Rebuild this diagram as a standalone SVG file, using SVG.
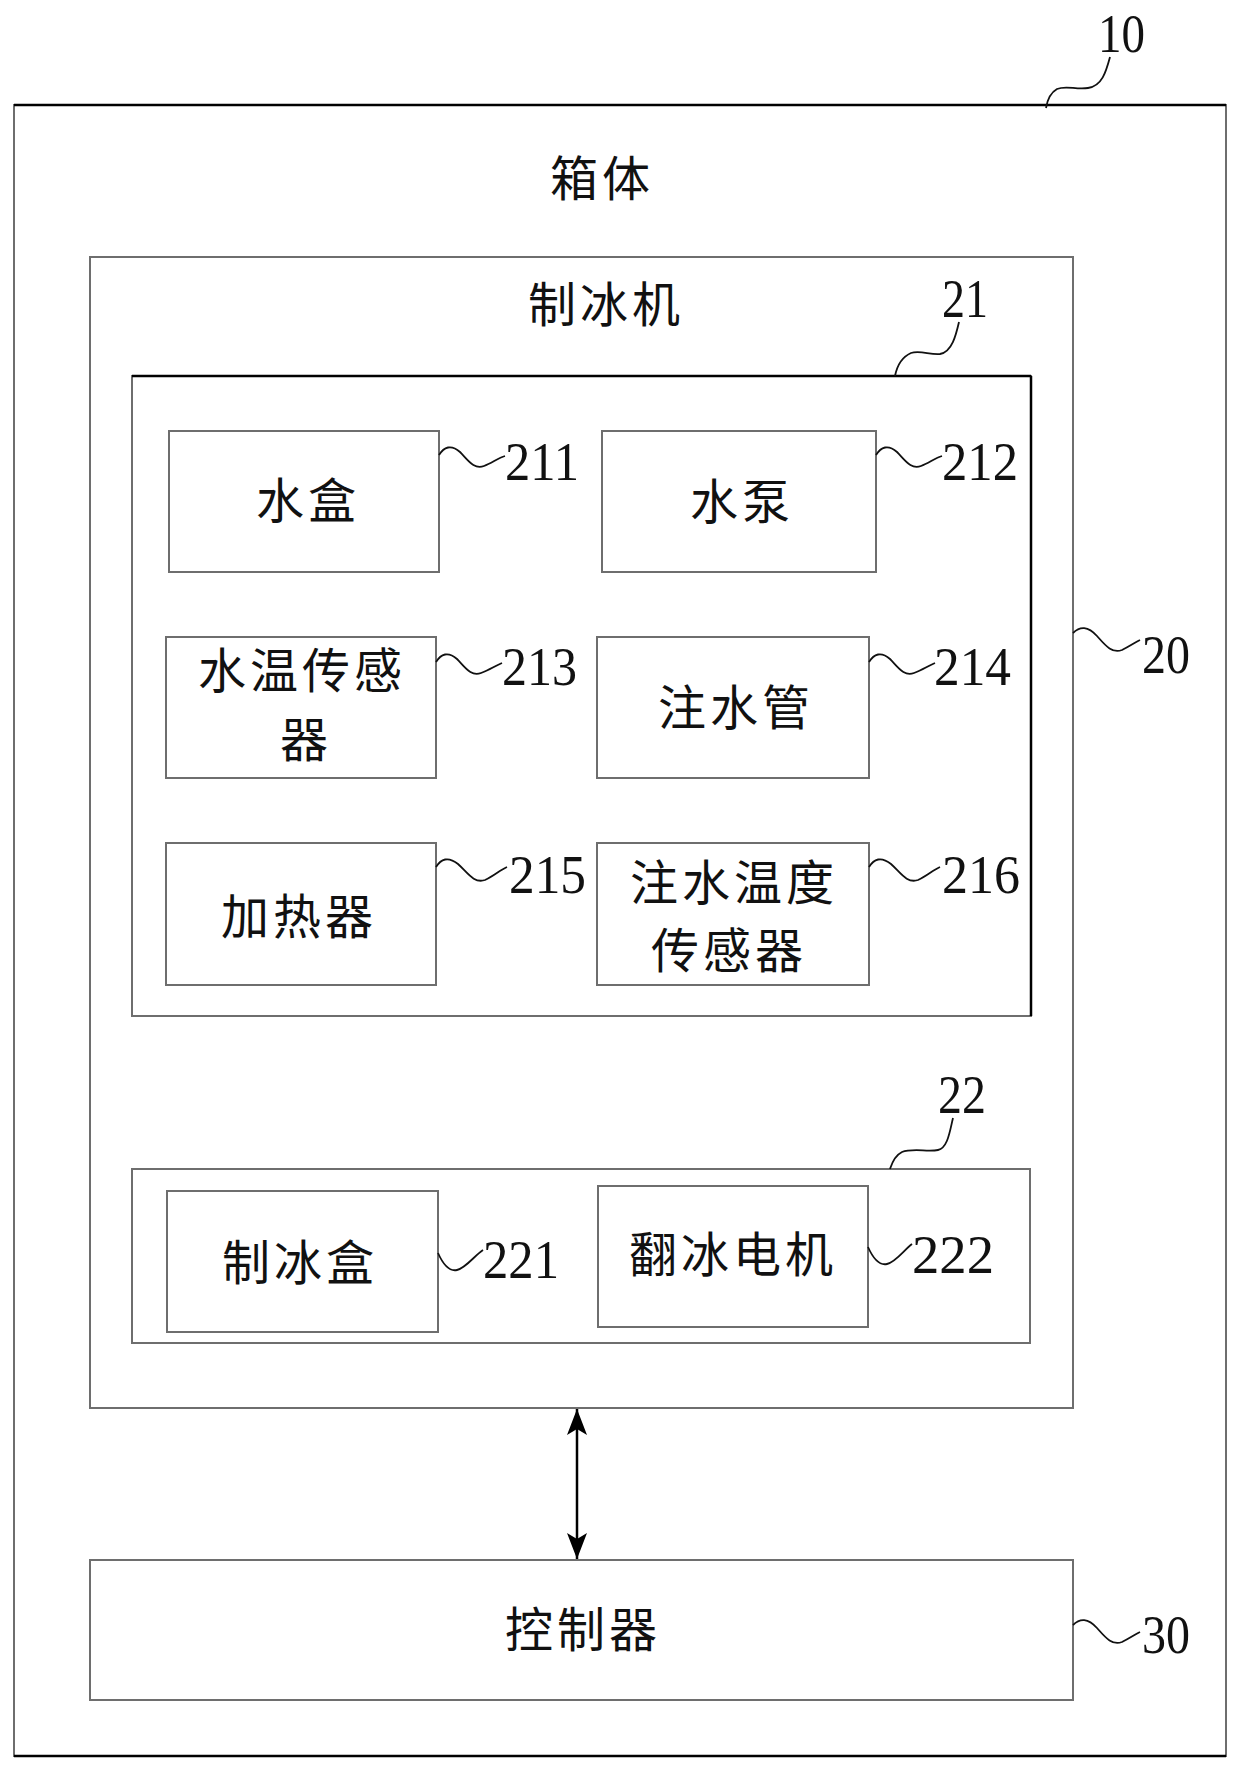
<svg xmlns="http://www.w3.org/2000/svg" width="1240" height="1771" viewBox="0 0 1240 1771">
<defs>
<style>
.box{fill:none;stroke:#6e6e6e;stroke-width:2}
.dk{stroke:#000;stroke-width:2.5;fill:none}
.cjk{font-family:"Noto Sans CJK SC","Noto Sans",sans-serif;font-size:48px;letter-spacing:4px;fill:#111}
.num{font-family:"Liberation Serif","Times New Roman",serif;font-size:54px;fill:#111}
.sq{fill:none;stroke:#111;stroke-width:1.8}
.arr{stroke:#000;stroke-width:2.5;fill:none}
</style>
<marker id="ah" viewBox="0 0 26 20" refX="26" refY="10" markerWidth="26" markerHeight="20" markerUnits="userSpaceOnUse" orient="auto-start-reverse">
<path d="M0,0 L26,10 L0,20 L6,10 Z" fill="#000"/>
</marker>
</defs>
<rect width="1240" height="1771" fill="#fff"/>

<g id="n10">
<rect class="box" x="14" y="105" width="1212" height="1651"/>
<line class="dk" x1="14" y1="105" x2="1226" y2="105"/>
<line class="dk" x1="14" y1="1756" x2="1226" y2="1756"/>
<text class="cjk" x="550" y="196">箱体</text>
<path class="sq" d="M1110,57 C1106,72 1102,86 1088,88 C1076,90 1066,85 1057,89 C1050,93 1047,102 1046,108"/>
<text class="num" x="1098" y="52" textLength="47" lengthAdjust="spacingAndGlyphs">10</text>
</g>

<g id="n20">
<rect class="box" x="90" y="257" width="983" height="1151"/>
<text class="cjk" x="528" y="322">制冰机</text>
<path class="sq" d="M1073,633 C1080,626 1088,626 1097,636 C1105,645 1112,654 1122,650 C1130,646 1134,643 1140,640"/>
<text class="num" x="1142" y="673" textLength="48" lengthAdjust="spacingAndGlyphs">20</text>
</g>

<g id="n21">
<rect class="box" x="132" y="376" width="899" height="640"/>
<line class="dk" x1="132" y1="376" x2="1031" y2="376"/>
<line class="dk" x1="1031" y1="376" x2="1031" y2="1016"/>
<path class="sq" d="M959,322 C956,335 952,352 940,354 C930,355 920,350 911,353 C902,357 897,366 895,376"/>
<text class="num" x="942" y="317" textLength="46" lengthAdjust="spacingAndGlyphs">21</text>
</g>

<g id="n211">
<rect class="box" x="169" y="431" width="270" height="141"/>
<text class="cjk" x="256" y="518">水盒</text>
<path class="sq" d="M439,455 C444,447 451,444 460,452 C468,460 474,470 484,466 C492,463 498,458 505,456"/>
<text class="num" x="505" y="480" textLength="74" lengthAdjust="spacingAndGlyphs">211</text>
</g>

<g id="n212">
<rect class="box" x="602" y="431" width="274" height="141"/>
<text class="cjk" x="690" y="519">水泵</text>
<path class="sq" d="M876,455 C881,447 888,444 897,452 C905,460 911,470 921,466 C929,463 935,458 942,456"/>
<text class="num" x="942" y="480" textLength="76" lengthAdjust="spacingAndGlyphs">212</text>
</g>

<g id="n213">
<rect class="box" x="166" y="637" width="270" height="141"/>
<text class="cjk" x="198" y="688">水温传感</text>
<text class="cjk" x="280" y="757">器</text>
<path class="sq" d="M436,662 C441,654 448,651 457,659 C465,667 471,677 481,673 C489,670 495,666 502,663"/>
<text class="num" x="502" y="685" textLength="75" lengthAdjust="spacingAndGlyphs">213</text>
</g>

<g id="n214">
<rect class="box" x="597" y="637" width="272" height="141"/>
<text class="cjk" x="658" y="725">注水管</text>
<path class="sq" d="M869,662 C874,654 881,651 890,659 C898,667 904,677 914,673 C922,670 928,666 935,663"/>
<text class="num" x="934" y="685" textLength="77" lengthAdjust="spacingAndGlyphs">214</text>
</g>

<g id="n215">
<rect class="box" x="166" y="843" width="270" height="142"/>
<text class="cjk" x="221" y="934">加热器</text>
<path class="sq" d="M436,867 C441,859 448,856 458,864 C467,872 474,884 485,880 C494,876 500,870 507,867"/>
<text class="num" x="509" y="893" textLength="77" lengthAdjust="spacingAndGlyphs">215</text>
</g>

<g id="n216">
<rect class="box" x="597" y="843" width="272" height="142"/>
<text class="cjk" x="630" y="900">注水温度</text>
<text class="cjk" x="651" y="968">传感器</text>
<path class="sq" d="M869,867 C874,859 881,856 891,864 C900,872 907,884 918,880 C927,876 933,870 940,867"/>
<text class="num" x="942" y="893" textLength="78" lengthAdjust="spacingAndGlyphs">216</text>
</g>

<g id="n22">
<rect class="box" x="132" y="1169" width="898" height="174"/>
<path class="sq" d="M953,1118 C950,1130 948,1148 938,1150 C928,1152 912,1148 902,1152 C894,1156 891,1166 890,1169"/>
<text class="num" x="938" y="1113" textLength="48" lengthAdjust="spacingAndGlyphs">22</text>
</g>

<g id="n221">
<rect class="box" x="167" y="1191" width="271" height="141"/>
<text class="cjk" x="222" y="1280">制冰盒</text>
<path class="sq" d="M438,1253 C442,1262 448,1272 457,1270 C466,1268 474,1256 483,1250"/>
<text class="num" x="483" y="1278" textLength="76" lengthAdjust="spacingAndGlyphs">221</text>
</g>

<g id="n222">
<rect class="box" x="598" y="1186" width="270" height="141"/>
<text class="cjk" x="629" y="1272">翻冰电机</text>
<path class="sq" d="M868,1247 C872,1256 878,1266 887,1264 C896,1262 904,1250 912,1244"/>
<text class="num" x="912" y="1273" textLength="82" lengthAdjust="spacingAndGlyphs">222</text>
</g>

<g id="n30">
<rect class="box" x="90" y="1560" width="983" height="140"/>
<text class="cjk" x="505" y="1647">控制器</text>
<path class="sq" d="M1073,1625 C1080,1618 1088,1618 1097,1628 C1105,1637 1112,1646 1122,1642 C1130,1638 1134,1635 1140,1632"/>
<text class="num" x="1142" y="1653" textLength="48" lengthAdjust="spacingAndGlyphs">30</text>
</g>

<g id="connectors">
<line class="arr" x1="577" y1="1409" x2="577" y2="1559" marker-start="url(#ah)" marker-end="url(#ah)"/>
</g>
</svg>
